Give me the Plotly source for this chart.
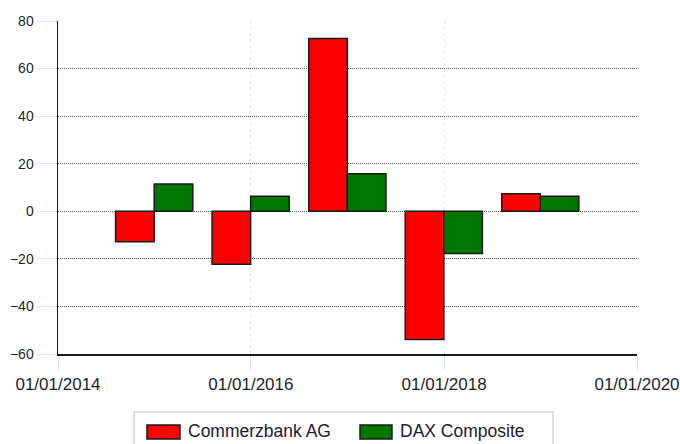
import plotly.graph_objects as go

# Data
dates = ["2014-12-31", "2015-12-31", "2016-12-31", "2017-12-31", "2018-12-31"]
commerzbank = [-12.8, -22.3, 72.6, -53.9, 7.4]
dax = [11.5, 6.3, 15.8, -17.8, 6.3]
series_names = ["Commerzbank AG", "DAX Composite"]
series_colors = ["#ff0000", "#007800"]
x_tick_vals = ["2014-01-01", "2016-01-01", "2018-01-01", "2020-01-01"]
x_tick_text = ["01/01/2014", "01/01/2016", "01/01/2018", "01/01/2020"]
y_tick_vals = [-60, -40, -20, 0, 20, 40, 60, 80]

W, H = 680, 444
L, R, T, B = 58, 43, 21, 90
pw, ph = W - L - R, H - T - B

def px_x(px):
    return (px - L) / pw

def px_y(py):
    return (H - B - py) / ph

fig = go.Figure()
for name, vals, col in zip(series_names, [commerzbank, dax], series_colors):
    fig.add_trace(go.Bar(
        x=dates, y=vals, name=name, showlegend=False,
        marker=dict(color=col, line=dict(color="#1a1a1a", width=1.5)),
    ))

fig.update_layout(
    width=W, height=H,
    margin=dict(l=L, r=R, t=T, b=B, pad=0, autoexpand=False),
    paper_bgcolor="white", plot_bgcolor="white",
    barmode="group", bargap=0.2, bargroupgap=0,
    font=dict(family="Liberation Sans, Arial, sans-serif", color="#222222"),
    xaxis=dict(
        type="date", automargin=False,
        range=["2014-01-01", "2020-01-01"],
        tickmode="array", tickvals=x_tick_vals, ticktext=x_tick_text,
        tickfont=dict(size=17, color="#1e1e2e"),
        ticklabeloverflow="allow",
        ticks="outside", ticklen=14, tickcolor="#dbe7f5", tickwidth=1,
        showgrid=True, gridcolor="#dbe7f5", griddash="dot", gridwidth=1,
        showline=True, linecolor="#1a1a1a", linewidth=1.5,
        zeroline=False, fixedrange=True,
    ),
    yaxis=dict(
        range=[-60, 80], automargin=False,
        tickmode="array", tickvals=y_tick_vals,
        tickfont=dict(size=14, color="#1e1e2e"),
        ticklabeloverflow="allow",
        ticks="outside", ticklen=20, tickcolor="#dbe7f5", tickwidth=1,
        showgrid=True, gridcolor="#555555", griddash="1px,1px", gridwidth=1,
        showline=True, linecolor="#1a1a1a", linewidth=1.5,
        zeroline=False, fixedrange=True,
    ),
)

# Custom legend (box, swatches, labels)
shapes = [
    dict(type="rect", xref="paper", yref="paper",
         x0=px_x(134), x1=px_x(553), y0=px_y(450), y1=px_y(412),
         line=dict(color="#d4d4d4", width=1.5), fillcolor="white", layer="above"),
]
sw = [(147, 180), (360, 392)]
tx = [186, 398]
for (a, b), t, name, col in zip(sw, tx, series_names, series_colors):
    shapes.append(dict(type="rect", xref="paper", yref="paper",
                       x0=px_x(a), x1=px_x(b), y0=px_y(439), y1=px_y(425),
                       line=dict(color="#1a1a1a", width=1.5), fillcolor=col))
    fig.add_annotation(xref="paper", yref="paper", x=px_x(t), y=px_y(430.5),
                       text=name, showarrow=False, xanchor="left", yanchor="middle",
                       font=dict(size=17.5, color="#202035"))
fig.update_layout(shapes=shapes)

# remove the default 8px page margin so the figure fills the window exactly
fig.write_html(
    "out.html",
    config={"displayModeBar": False, "staticPlot": True},
    post_script="document.body.style.margin='0px';document.body.style.overflow='hidden';",
)
